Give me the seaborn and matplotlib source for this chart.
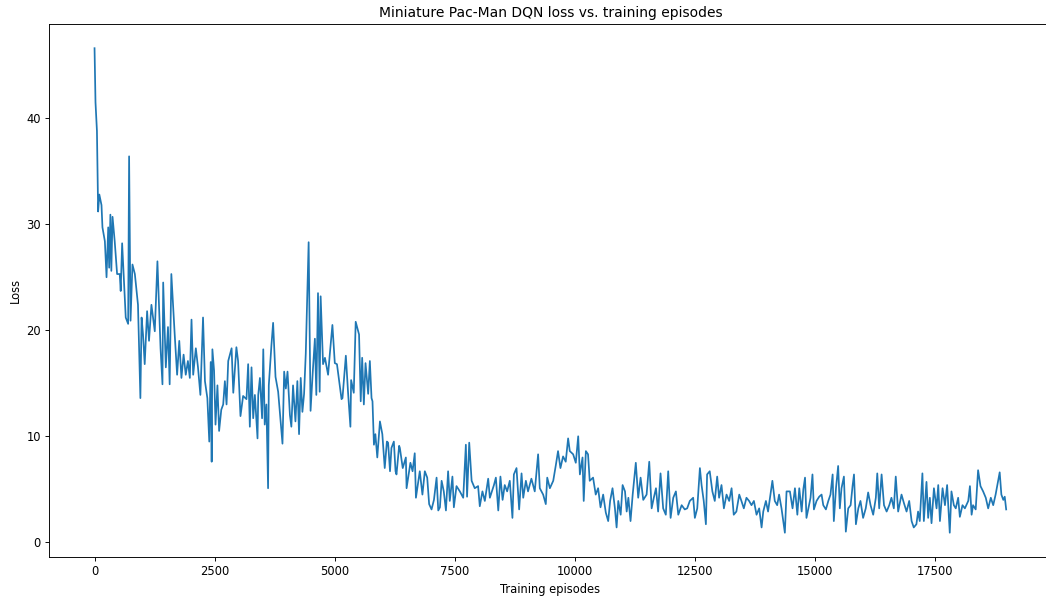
import numpy as np
import pandas as pd
import matplotlib
matplotlib.use("Agg")
import matplotlib.pyplot as plt
import seaborn as sns

# values (episode, loss)
episodes = [
    0, 20, 50, 75, 100, 145, 165, 215, 250, 285, 305, 330, 350, 375, 420, 470, 525, 545, 575, 610,
    650, 700, 720, 750, 790, 840, 905, 955, 980, 1010, 1045, 1095, 1135, 1185, 1255, 1310, 1375, 1415, 1430, 1485,
    1530, 1565, 1600, 1670, 1720, 1765, 1810, 1855, 1900, 1945, 1985, 2020, 2055, 2110, 2155, 2205, 2260, 2300,
    2350, 2390, 2420, 2440, 2455, 2490, 2520, 2560, 2595, 2640, 2680, 2715, 2750, 2785, 2855, 2890, 2955, 2990,
    3040, 3095, 3165, 3200, 3235, 3270, 3305, 3340, 3395, 3410, 3445, 3490, 3515, 3545, 3580, 3615, 3630, 3685,
    3720, 3770, 3825, 3860, 3915, 3950, 3985, 4020, 4070, 4100, 4135, 4185, 4225, 4260, 4295, 4330, 4365, 4400,
    4460, 4500, 4545, 4590, 4620, 4655, 4690, 4710, 4760, 4800, 4865, 4900, 4955, 5005, 5050, 5105, 5145, 5165,
    5235, 5280, 5330, 5345, 5400, 5440, 5510, 5545, 5575, 5610, 5645, 5700, 5735, 5770, 5790, 5820, 5850, 5890,
    5945, 5995, 6045, 6090, 6115, 6155, 6185, 6235, 6270, 6290, 6345, 6360, 6420, 6485,
    6500, 6580, 6625, 6670, 6695, 6775, 6830, 6880, 6930, 6970, 7020, 7070, 7125, 7160, 7195, 7230, 7275, 7320,
    7365, 7400, 7455, 7485, 7540, 7610, 7680, 7735, 7760, 7805, 7855, 7920, 7990, 8025, 8080, 8130, 8200, 8235,
    8320, 8360, 8410, 8455, 8500, 8545, 8595, 8650, 8705, 8735, 8790, 8845, 8895, 8930, 8985, 9030, 9100, 9170,
    9240, 9275, 9345, 9400, 9430, 9485, 9555, 9610, 9655, 9705, 9760, 9815, 9865, 9900, 9970, 10025, 10075, 10110,
    10165, 10190, 10235, 10280, 10315, 10385, 10440, 10490, 10540, 10595, 10650, 10700,
    10740, 10790, 10840, 10875, 10910, 10960, 11000, 11050, 11085, 11120, 11165, 11210, 11275, 11325, 11375, 11430,
    11500, 11555, 11605, 11650, 11695, 11740, 11790, 11845, 11900, 11950, 12000, 12055, 12110, 12160, 12230, 12295,
    12345, 12400, 12470, 12505, 12555, 12610, 12645, 12690, 12735, 12760, 12815, 12870, 12920, 12970, 13010, 13060,
    13110, 13165, 13220, 13270, 13315, 13370, 13430, 13475, 13525, 13580, 13635, 13685, 13735, 13790, 13845, 13895,
    13930, 13985, 14030, 14080, 14120, 14170, 14220, 14260, 14310, 14380, 14415,
    14485, 14540, 14590, 14640, 14680, 14730, 14765, 14800, 14830, 14885, 14915, 14955, 14985, 15040, 15095, 15145,
    15180, 15235, 15285, 15330, 15375, 15400, 15445, 15490, 15525, 15560, 15610, 15650, 15700, 15750, 15790, 15820,
    15860, 15910, 15955, 16010, 16065, 16115, 16165, 16220, 16275, 16305, 16345, 16395, 16445, 16500, 16555, 16600,
    16650, 16690, 16740, 16810, 16860, 16915, 16970, 17020, 17065, 17120, 17155, 17190, 17245, 17275, 17330, 17365,
    17400, 17435, 17485, 17540, 17575, 17610, 17665, 17715, 17760, 17815, 17850, 17900, 17940, 17990, 18025, 18080,
    18130, 18200, 18235, 18270, 18300, 18355, 18405, 18455, 18510, 18565, 18615,
    18670, 18720, 18770, 18855, 18890, 18930, 18960, 18990,
]

loss = [
    46.6, 41.5, 38.8, 31.2, 32.8, 31.8, 29.7, 28.4, 25.0, 29.7, 25.9, 30.9, 25.6, 30.7, 28.4, 25.3, 25.3, 23.7, 28.2, 25.0,
    21.2, 20.6, 36.4, 20.9, 26.2, 25.3, 22.4, 13.6, 21.2, 19.6, 16.8, 21.8, 19.0, 22.4, 19.9, 26.5, 18.3, 14.9, 24.5, 16.5,
    20.3, 14.9, 25.3, 19.6, 15.8, 19.0, 15.5, 17.7, 15.8, 17.1, 15.5, 21.0, 15.8, 18.3, 16.5, 13.9, 21.2, 15.2,
    13.6, 9.5, 17.0, 7.6, 18.2, 16.2, 11.1, 14.8, 10.5, 12.5, 13.0, 15.2, 13.0, 17.1, 18.3, 14.1, 18.4, 17.1,
    11.9, 13.8, 13.5, 16.8, 10.9, 16.5, 11.7, 13.9, 9.8, 13.9, 15.5, 11.7, 18.2, 11.1, 13.0, 5.1, 14.8, 18.6,
    20.7, 15.6, 14.2, 12.3, 9.3, 16.1, 14.5, 16.1, 12.0, 10.9, 14.8, 11.4, 15.2, 10.2, 15.5, 12.3, 14.0, 17.8,
    28.3, 12.4, 16.0, 19.2, 13.9, 23.5, 14.2, 23.2, 16.8, 17.4, 15.8, 17.7, 20.5, 16.9, 16.8, 14.9, 13.5, 13.6,
    17.6, 14.2, 10.9, 15.3, 14.1, 20.8, 19.6, 13.3, 17.4, 13.0, 16.9, 14.0, 17.1, 13.6, 13.3, 9.2, 10.2, 8.0,
    11.4, 10.2, 7.0, 9.5, 9.4, 6.7, 8.9, 9.5, 6.7, 6.4, 9.1, 8.9, 7.0, 8.0,
    5.1, 7.5, 6.7, 8.4, 4.2, 6.7, 4.5, 6.7, 6.1, 3.6, 3.1, 4.0, 6.1, 3.0, 3.3, 5.8, 4.8, 3.0,
    6.7, 3.9, 6.2, 3.3, 5.3, 4.8, 4.2, 9.2, 4.3, 9.4, 5.8, 5.1, 5.3, 3.4, 4.8, 3.9, 6.0, 4.2,
    5.4, 6.1, 3.0, 6.2, 4.0, 5.4, 4.8, 5.8, 2.3, 6.4, 7.0, 3.1, 6.5, 4.2, 5.8, 4.8, 6.0, 4.8,
    8.3, 5.1, 4.5, 3.6, 6.1, 5.1, 5.8, 7.3, 8.6, 7.0, 8.1, 7.6, 9.8, 8.6, 8.3, 7.5, 10.0, 6.4,
    8.0, 3.9, 8.6, 8.3, 5.8, 6.1, 4.5, 5.1, 3.3, 4.5, 2.8, 2.0,
    3.9, 5.1, 3.2, 1.4, 3.9, 2.6, 5.4, 4.8, 2.9, 4.2, 2.0, 4.5, 7.5, 4.2, 6.1, 4.0,
    4.5, 7.6, 3.2, 4.2, 5.1, 2.9, 6.5, 3.2, 2.6, 6.7, 2.3, 4.2, 4.8, 2.6, 3.5, 3.1,
    3.2, 3.9, 4.2, 2.3, 3.2, 7.0, 5.4, 3.9, 1.7, 6.4, 6.7, 4.8, 3.9, 6.2, 4.2, 5.4,
    3.2, 4.5, 3.9, 5.1, 2.6, 2.9, 4.5, 3.9, 3.2, 4.2, 3.9, 3.5, 3.9, 2.6, 3.2, 1.4,
    2.9, 3.9, 2.9, 4.5, 5.8, 3.9, 3.5, 4.5, 3.2, 0.9, 4.8,
    4.8, 3.2, 5.1, 2.6, 5.1, 2.9, 5.0, 6.1, 2.3, 3.5, 4.2, 6.4, 3.1, 3.9, 4.3, 4.5,
    3.5, 3.1, 3.9, 4.5, 6.4, 2.0, 5.1, 7.2, 3.2, 5.1, 6.2, 1.0, 3.2, 3.5, 5.3, 6.4,
    1.7, 3.2, 3.9, 2.3, 3.2, 4.7, 3.5, 2.6, 4.2, 6.5, 3.2, 6.4, 3.5, 2.9, 3.5, 4.2,
    3.2, 6.2, 2.9, 4.5, 3.7, 2.9, 3.9, 2.0, 1.4, 1.7, 2.9, 2.0, 6.5, 2.0, 5.7, 2.3,
    4.2, 1.8, 5.1, 3.2, 5.4, 2.0, 5.1, 3.5, 5.4, 0.9, 4.8, 3.5, 3.2, 4.2, 2.4, 3.5,
    3.2, 3.9, 5.3, 2.6, 3.5, 3.1, 6.8, 5.3, 4.8, 4.2, 3.2,
    4.2, 3.5, 4.5, 6.6, 4.5, 4.0, 4.3, 3.1,
]

df = pd.DataFrame({"episode": episodes, "loss": loss})

# the reference looks like a default matplotlib figure shrunk a bit, so draw at 83 dpi
fig = plt.figure(figsize=(1046 / 83, 598 / 83), dpi=83)
ax = fig.add_axes([0.0468, 0.0686, 0.9587, 0.8913])

sns.lineplot(data=df, x="episode", y="loss", color="#1f77b4", linewidth=1.5, ax=ax)

ax.set_title("Miniature Pac-Man DQN loss vs. training episodes")
ax.set_xlabel("Training episodes")
ax.set_ylabel("Loss")

fig.savefig("out.png", dpi=83)
